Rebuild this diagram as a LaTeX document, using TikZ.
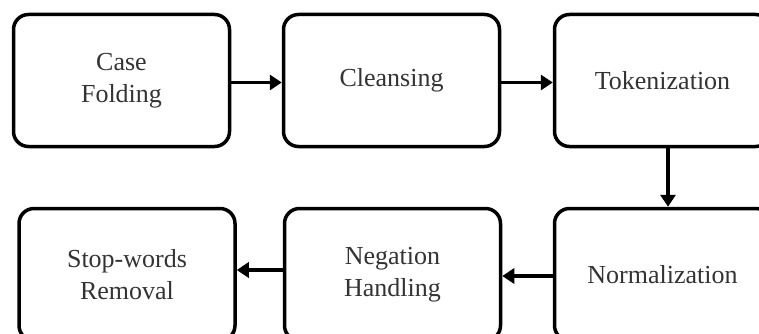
\documentclass[tikz,border=0pt]{standalone}
\usepackage{fontspec}
\setmainfont{Liberation Serif}
\usetikzlibrary{arrows.meta}
\begin{document}
\begin{tikzpicture}[x=1pt,y=-1pt,
  stepbox/.style={draw=black, line width=3.5pt, rounded corners=15pt,
    minimum width=216pt, minimum height=132pt, align=center,
    text=black!80, font=\fontsize{26}{32}\selectfont, inner sep=0pt},
  flow/.style={line width=3.5pt, -{Triangle[length=12pt,width=15pt]}}]
\useasboundingbox (0,0) rectangle (759,334);
\node[stepbox] (b1) at (121.5,80.5) {Case\\Folding};
\node[stepbox] (b2) at (391.5,80.5) {Cleansing};
\node[stepbox] (b3) at (662.5,80.5) {Tokenization};
\node[stepbox] (b4) at (127,274.5) {Stop-words\\Removal};
\node[stepbox] (b5) at (392.5,274.5) {Negation\\Handling};
\node[stepbox] (b6) at (662.5,274.5) {Normalization};
\draw[flow] ([yshift=-2pt]b1.east) -- ([yshift=-2pt]b2.west);
\draw[flow] ([yshift=-2pt]b2.east) -- ([yshift=-2pt]b3.west);
\draw[flow] ([xshift=5.5pt]b3.south) -- ([xshift=5.5pt]b6.north);
\draw[flow] ([yshift=-1.5pt]b6.west) -- ([yshift=-1.5pt]b5.east);
\draw[flow] ([yshift=4.5pt]b5.west) -- ([yshift=4.5pt]b4.east);
\end{tikzpicture}
\end{document}
